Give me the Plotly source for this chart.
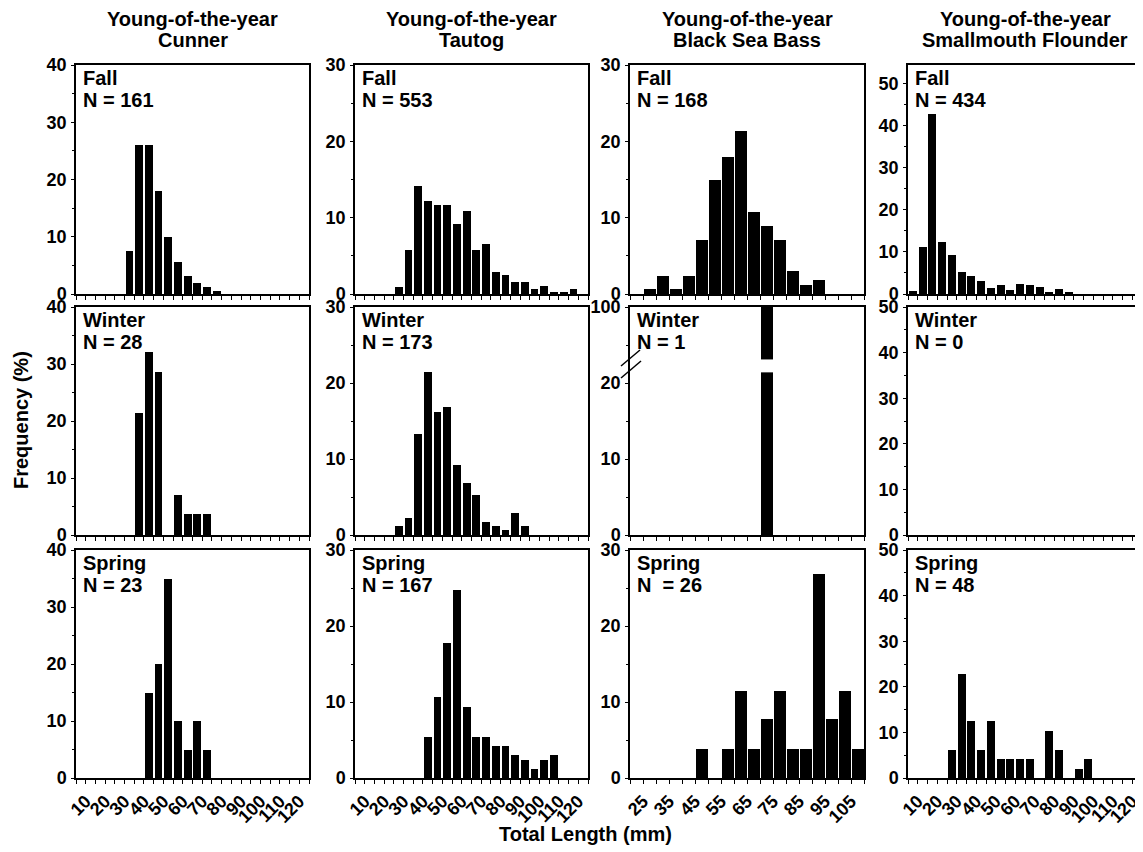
import plotly.graph_objects as go

W, H = 1143, 852
FONT = "Liberation Sans, Arial, Helvetica, sans-serif"
PAGE_OFFSET = 8  # the page body margin shifts the figure by this many pixels

# ---------------- data ----------------
title_line1 = ["Young-of-the-year"] * 4
title_line2 = ["Cunner", "Tautog", "Black Sea Bass", "Smallmouth Flounder"]
seasons = ["Fall", "Winter", "Spring"]
n_labels = [["N = 161", "N = 28", "N = 23"],
            ["N = 553", "N = 173", "N = 167"],
            ["N = 168", "N = 1", "N\u00a0\u00a0= 26"],
            ["N = 434", "N = 0", "N = 48"]]

# bin lower edges (mm) and frequency (%)
cunner_fall_bins = [30, 35, 40, 45, 50, 55, 60, 65, 70, 75]
cunner_fall = [7.5, 26.1, 26.1, 18.0, 9.9, 5.6, 3.1, 1.9, 1.2, 0.6]
cunner_winter_bins = [35, 40, 45, 55, 60, 65, 70]
cunner_winter = [21.4, 32.1, 28.6, 7.1, 3.6, 3.6, 3.6]
cunner_spring_bins = [40, 45, 50, 55, 60, 65, 70]
cunner_spring = [15.0, 20.0, 35.0, 10.0, 5.0, 10.0, 5.0]

tautog_fall_bins = [25, 30, 35, 40, 45, 50, 55, 60, 65, 70, 75, 80, 85, 90, 95, 100, 105, 110, 115]
tautog_fall = [0.9, 5.7, 14.1, 12.2, 11.7, 11.7, 9.2, 10.9, 5.7, 6.5, 2.9, 2.5, 1.6, 1.6, 0.7, 1.1, 0.2, 0.2, 0.7]
tautog_winter_bins = [25, 30, 35, 40, 45, 50, 55, 60, 65, 70, 75, 80, 85, 90]
tautog_winter = [1.2, 2.3, 13.3, 21.4, 16.2, 16.8, 9.2, 6.9, 5.2, 1.7, 1.2, 0.6, 2.9, 1.2]
tautog_spring_bins = [40, 45, 50, 55, 60, 65, 70, 75, 80, 85, 90, 95, 100, 105]
tautog_spring = [5.4, 10.7, 17.7, 24.8, 9.4, 5.4, 5.4, 4.2, 4.2, 3.0, 2.4, 1.2, 2.4, 3.0]

bsb_fall_bins = [25, 30, 35, 40, 45, 50, 55, 60, 65, 70, 75, 80, 85, 90]
bsb_fall = [0.6, 2.4, 0.6, 2.4, 7.1, 14.9, 17.9, 21.4, 10.7, 8.9, 7.1, 3.0, 1.2, 1.8]
bsb_winter_bins = [70]
bsb_winter = [100.0]
bsb_spring_bins = [45, 55, 60, 65, 70, 75, 80, 85, 90, 95, 100, 105]
bsb_spring = [3.8, 3.8, 11.5, 3.8, 7.7, 11.5, 3.8, 3.8, 26.9, 7.7, 11.5, 3.8]

flounder_fall_bins = [5, 10, 15, 20, 25, 30, 35, 40, 45, 50, 55, 60, 65, 70, 75, 80, 85]
flounder_fall = [0.6, 11.1, 42.8, 12.3, 9.3, 5.3, 4.3, 3.0, 1.4, 2.1, 1.0, 2.5, 2.1, 1.7, 0.4, 1.3, 0.5]
flounder_winter_bins = []
flounder_winter = []
flounder_spring_bins = [25, 30, 35, 40, 45, 50, 55, 60, 65, 75, 80, 90, 95]
flounder_spring = [6.25, 22.9, 12.5, 6.25, 12.5, 4.17, 4.17, 4.17, 4.17, 10.4, 6.25, 2.08, 4.17]

panels = [
    [(cunner_fall_bins, cunner_fall), (cunner_winter_bins, cunner_winter), (cunner_spring_bins, cunner_spring)],
    [(tautog_fall_bins, tautog_fall), (tautog_winter_bins, tautog_winter), (tautog_spring_bins, tautog_spring)],
    [(bsb_fall_bins, bsb_fall), (bsb_winter_bins, bsb_winter), (bsb_spring_bins, bsb_spring)],
    [(flounder_fall_bins, flounder_fall), (flounder_winter_bins, flounder_winter), (flounder_spring_bins, flounder_spring)],
]

x_ranges = [[5, 125], [5, 125], [20, 110], [5, 125]]
x_tick0 = [10, 10, 25, 10]
y_ranges = [[[0, 40], [0, 40], [0, 40]],
            [[0, 30], [0, 30], [0, 30]],
            [[0, 30], [0, 30], [0, 30]],
            [[0, 54.5], [0, 50], [0, 50]]]

# ---------------- layout geometry (screen pixels) ----------------
cols_px = [(76, 309), (355, 588), (630, 864), (908, 1142)]
rows_px = [(65, 294), (307, 535), (550, 778)]


def px_x(p):
    return (p - PAGE_OFFSET) / W


def px_y(p):
    return 1 - (p - PAGE_OFFSET) / H


fig = go.Figure()
layout_axes = {}
annotations = []
shapes = []

tickfont = dict(family=FONT, size=18, color="black", weight="bold")
labfont = dict(family=FONT, size=20, color="black", weight="bold")

for c in range(4):
    for r in range(3):
        idx = c * 3 + r + 1
        sfx = "" if idx == 1 else str(idx)
        bins, vals = panels[c][r]
        is_bsb = (c == 2)
        fig.add_trace(go.Bar(
            x=bins, y=vals,
            width=4.7 if is_bsb else 4.0,
            offset=0.2 if is_bsb else 0.5,
            marker=dict(color="black", line=dict(width=0)),
            xaxis="x" + sfx, yaxis="y" + sfx,
            showlegend=False, hoverinfo="x+y",
        ))
        (x0, x1), (y0, y1) = cols_px[c], rows_px[r]
        xa = dict(
            domain=[px_x(x0), px_x(x1)], anchor="y" + sfx, automargin=False,
            range=x_ranges[c], showline=True, linecolor="black", linewidth=1.5,
            mirror=True, showgrid=False, zeroline=False,
            ticks="outside", ticklen=4, tickwidth=1.2, tickcolor="black",
            tickmode="linear", tick0=x_tick0[c], dtick=10,
            minor=dict(ticks="outside", ticklen=4, tickwidth=1.2, tickcolor="black",
                       tick0=x_tick0[c] - 5, dtick=5, showgrid=False),
            showticklabels=(r == 2), tickangle=-45, tickfont=tickfont,
        )
        ya = dict(
            domain=[px_y(y1), px_y(y0)], anchor="x" + sfx, automargin=False,
            range=y_ranges[c][r], showline=True, linecolor="black", linewidth=1.5,
            mirror=True, showgrid=False, zeroline=False,
            ticks="outside", ticklen=3, tickwidth=1.2, tickcolor="black",
            tickmode="linear", tick0=0, dtick=10,
            minor=dict(ticks="outside", ticklen=2, tickwidth=1, tickcolor="black",
                       dtick=5, showgrid=False),
            tickfont=tickfont, ticklabelstandoff=1,
        )
        if c == 2 and r == 1:
            ya.update(tickmode="array", tickvals=[0, 10, 20, 30],
                      ticktext=["0", "10", "20", "100"])
        layout_axes["xaxis" + sfx] = xa
        layout_axes["yaxis" + sfx] = ya

        # season / N labels
        annotations.append(dict(
            x=px_x(x0 + 5), y=px_y(y0 + 13), xref="paper", yref="paper",
            text=seasons[r], showarrow=False, xanchor="left", yanchor="middle",
            font=labfont))
        annotations.append(dict(
            x=px_x(x0 + 5), y=px_y(y0 + 35), xref="paper", yref="paper",
            text=n_labels[c][r], showarrow=False, xanchor="left", yanchor="middle",
            font=labfont))

# column titles
for c in range(4):
    cx = (cols_px[c][0] + cols_px[c][1]) / 2
    annotations.append(dict(x=px_x(cx), y=px_y(19), xref="paper", yref="paper",
                            text=title_line1[c], showarrow=False, xanchor="center", yanchor="middle",
                            font=labfont))
    annotations.append(dict(x=px_x(cx), y=px_y(40), xref="paper", yref="paper",
                            text=title_line2[c], showarrow=False, xanchor="center", yanchor="middle",
                            font=labfont))

# axis titles
annotations.append(dict(x=px_x(21), y=px_y(420), xref="paper", yref="paper",
                        text="Frequency (%)", textangle=-90, showarrow=False,
                        xanchor="center", yanchor="middle", font=labfont))
annotations.append(dict(x=px_x(585), y=px_y(834), xref="paper", yref="paper",
                        text="Total Length (mm)", showarrow=False,
                        xanchor="center", yanchor="middle", font=labfont))

# axis break on Black Sea Bass winter panel
shapes.append(dict(type="rect", xref="x8", yref="y8", x0=68, x1=77, y0=21.4, y1=23.1,
                   fillcolor="white", line=dict(width=0), layer="above"))
for (ax0, ay0, ax1, ay1) in [(621, 366, 640, 350), (621, 378, 641, 361)]:
    shapes.append(dict(type="line", xref="paper", yref="paper",
                       x0=px_x(ax0), y0=px_y(ay0), x1=px_x(ax1), y1=px_y(ay1),
                       line=dict(color="black", width=1.5)))

fig.update_layout(
    template="none",
    width=W, height=H,
    margin=dict(l=0, r=0, t=0, b=0, pad=0, autoexpand=False),
    paper_bgcolor="white", plot_bgcolor="white",
    font=dict(family=FONT, color="black"),
    bargap=0, annotations=annotations, shapes=shapes,
    **layout_axes,
)

fig.write_html("out.html")
